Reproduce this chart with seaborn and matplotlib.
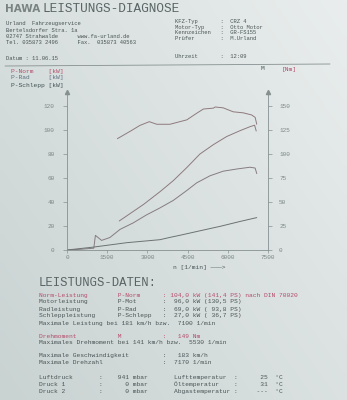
import numpy as np
import pandas as pd
import matplotlib
matplotlib.use("Agg")
import matplotlib.pyplot as plt
import seaborn as sns
from matplotlib.lines import Line2D
from matplotlib.colors import to_rgb

# ---------------- data ----------------
rpm_ticks = [0, 1500, 3000, 4500, 6000, 7500]
kw_ticks = [0, 20, 40, 60, 80, 100, 120]
nm_ticks = [0, 25, 50, 75, 100, 125, 150]

m_rpm = [1880, 2400, 2720, 3070, 3350, 3840, 4470, 4840, 5090, 5460, 5530, 5830, 6200, 6580, 6890, 7020, 7080]
m_nm = [116, 124.4, 129.8, 133.7, 131, 131, 135.6, 142.5, 146.9, 147.8, 149, 148.1, 144, 142.9, 140.7, 138.2, 131]

pnorm_rpm = [1950, 2850, 3470, 3970, 4470, 4960, 5460, 5960, 6450, 6830, 7000, 7060]
pnorm_kw = [24.2, 37.9, 48.6, 57.9, 68.7, 80, 87.8, 94.6, 99.4, 102.8, 104, 99.2]

prad_rpm = [0, 500, 1000, 1060, 1290, 1600, 1980, 2470, 2970, 3470, 3970, 4470, 4840, 5340, 5830, 6330, 6830, 7020, 7080]
prad_kw = [0, 0.6, 1.5, 12.2, 8, 10.4, 17.2, 22.6, 29.3, 35.1, 41.4, 49.6, 56, 61.9, 65.7, 67.5, 69, 68.3, 63.7]

pschlepp_rpm = [0, 980, 2230, 3470, 3840, 4220, 4960, 5710, 6460, 7080]
pschlepp_kw = [0, 2.4, 6.1, 8.6, 10.5, 12.3, 16, 19.7, 23.8, 27]

# ---------------- style ----------------
sns.set_theme(style="white")
MONO = ["Liberation Mono", "DejaVu Sans Mono"]
plt.rcParams["font.family"] = MONO

BG = "#dde3e3"
TXT = "#4a5454"
RED = "#b44c6c"
GRID = "#879090"
TICK = "#7c8686"

W, H = 347, 400
fig = plt.figure(figsize=(W / 100, H / 100), dpi=100, facecolor=BG)
FS = 4.5
HFS = 4.0

# paper background (photo shading: darker bottom-left, lighter top-right)
bgax = fig.add_axes([0, 0, 1, 1], zorder=-5)
gx, gy = np.meshgrid(np.linspace(0, 1, 64), np.linspace(1, 0, 64))
tt = np.clip(0.55 * gx + 0.45 * gy, 0, 1)[..., None]
c0 = np.array(to_rgb("#c9d3d2"))
c1 = np.array(to_rgb("#e9eded"))
bgax.imshow(c0 + (c1 - c0) * tt, aspect="auto", extent=[0, 1, 0, 1], interpolation="bilinear")
bgax.set_axis_off()


def T(x, y, s, color=TXT, size=FS, **kw):
    fig.text(x / W, 1 - y / H, s, color=color, fontsize=size, va="center", ha=kw.pop("ha", "left"), **kw)


# ---------------- header ----------------
T(5, 9, "HAWA", color="#7a8282", size=7.5, family="DejaVu Sans", weight="bold")
T(42, 9, "LEISTUNGS-DIAGNOSE", size=9.2, color="#5a6464")

T(6, 24, "Urland  Fahrzeugservice", size=HFS)
T(6, 30, "Bertelsdorfer Stra. 1a", size=HFS)
T(6, 36, "02747 Strahwalde      www.fa-urland.de", size=HFS)
T(6, 42, "Tel. 035873 2496      Fax.  035873 40563", size=HFS)
T(6, 59, "Datum : 11.06.15", size=HFS)

T(175, 21, "KFZ-Typ       :  CRZ 4", size=HFS)
T(175, 27, "Motor-Typ     :  Otto Motor", size=HFS)
T(175, 33, "Kennzeichen   :  GR-FS155", size=HFS)
T(175, 39, "Prüfer        :  M.Urland", size=HFS)
T(175, 56, "Uhrzeit       :  12:09", size=HFS)

fig.add_artist(Line2D([5 / W, 330 / W], [1 - 66 / H, 1 - 64 / H], color=GRID, lw=0.6))

# legend texts
T(11, 71, "P-Norm    [kW]", color=RED)
T(11, 78, "P-Rad     [kW]", color="#5e7080")
T(11, 85, "P-Schlepp [kW]", color="#3e5050")
T(261, 69, "M", color=TXT)
T(282, 69, "[Nm]", color=RED)

# ---------------- chart ----------------
ax = fig.add_axes([67 / W, 1 - 250 / H, (268 - 67) / W, (250 - 92) / H])
ax.set_facecolor("none")
ax2 = ax.twinx()

kw_top = 131.7
ax.set_xlim(0, 7500)
ax.set_ylim(0, kw_top)
ax2.set_ylim(0, kw_top * 1.25)

df_m = pd.DataFrame({"n": m_rpm, "M": m_nm})
df_pn = pd.DataFrame({"n": pnorm_rpm, "P": pnorm_kw})
df_pr = pd.DataFrame({"n": prad_rpm, "P": prad_kw})
df_ps = pd.DataFrame({"n": pschlepp_rpm, "P": pschlepp_kw})

sns.lineplot(data=df_pn, x="n", y="P", ax=ax, color="#8c7a7e", lw=0.7, estimator=None, sort=False)
sns.lineplot(data=df_pr, x="n", y="P", ax=ax, color="#857c80", lw=0.7, estimator=None, sort=False)
sns.lineplot(data=df_ps, x="n", y="P", ax=ax, color="#6c7272", lw=0.7, estimator=None, sort=False)
sns.lineplot(data=df_m, x="n", y="M", ax=ax2, color="#8e7a7e", lw=0.7, estimator=None, sort=False)

for a in (ax, ax2):
    a.set_xlabel("")
    a.set_ylabel("")
    for s in a.spines.values():
        s.set_color(GRID)
        s.set_linewidth(0.6)
    a.spines["top"].set_visible(False)

ax.spines["right"].set_visible(False)
ax2.spines["left"].set_visible(False)
ax2.spines["bottom"].set_visible(False)

ax.set_xticks(rpm_ticks)
ax.set_xticklabels([str(v) for v in rpm_ticks])
ax.set_yticks(kw_ticks)
ax.set_yticklabels([str(v) for v in kw_ticks])
ax2.set_yticks(nm_ticks)
ax2.set_yticklabels([str(v) for v in nm_ticks])

ax.tick_params(axis="x", bottom=True, direction="out", length=2, width=0.5, color=GRID,
               labelsize=4.3, labelcolor=TICK, pad=1.5)
ax.tick_params(axis="y", left=True, direction="out", length=3, width=0.5, color=GRID,
               labelsize=4.3, labelcolor=TICK, pad=6)
ax2.tick_params(axis="y", right=True, direction="out", length=3, width=0.5, color=GRID,
                labelsize=4.3, labelcolor=TICK, pad=5)

# axis arrows
for xx in (0, 1):
    ax.plot([xx], [1.0], marker="^", ms=3, color=GRID, transform=ax.transAxes, clip_on=False)

T(173, 267, "n [1/min] \u2014\u2014\u2014>", color=TXT)

# ---------------- data block ----------------
T(39, 283, "LEISTUNGS-DATEN:", size=8.8, color="#5a6464")
T(39, 295, "Norm-Leistung        P-Norm      : 104,0 kW (141,4 PS) nach DIN 70020", color=RED)
T(39, 302, "Motorleistung        P-Mot       :  96,0 kW (130,5 PS)")
T(39, 309, "Radleistung          P-Rad       :  69,0 kW ( 93,8 PS)")
T(39, 316, "Schleppleistung      P-Schlepp   :  27,0 kW ( 36,7 PS)")
T(39, 323, "Maximale Leistung bei 181 km/h bzw.  7100 1/min")

T(39, 336, "Drehmoment           M           :   149 Nm", color=RED)
T(39, 343, "Maximales Drehmoment bei 141 km/h bzw.  5530 1/min")

T(39, 356, "Maximale Geschwindigkeit         :   183 km/h")
T(39, 363, "Maximale Drehzahl                :  7170 1/min")

T(39, 377, "Luftdruck       :    941 mbar       Lufttemperatur  :      25  °C")
T(39, 384, "Druck 1         :      0 mbar       Öltemperatur    :      31  °C")
T(39, 391, "Druck 2         :      0 mbar       Abgastemperatur :     ---  °C")

fig.savefig("out.png", dpi=100, facecolor=BG)
